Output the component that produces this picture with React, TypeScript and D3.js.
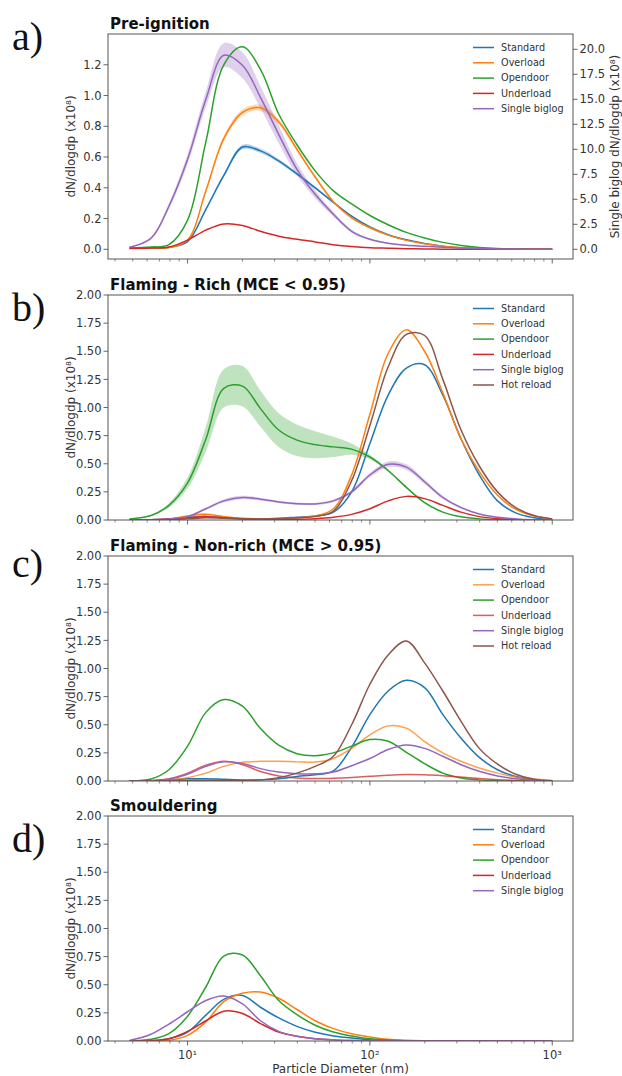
import React from "react";
import * as d3 from "d3";

// ---------- data ----------
const diameters = [4.8, 6.3, 7.9, 10, 12.6, 15.8, 20, 25.1, 31.6, 39.8, 50.1, 63.1, 79.4, 100, 125.9, 158.5, 199.5, 251.2, 316.2, 398.1, 501.2, 631, 794.3, 1000];

const seriesNames = ["Standard", "Overload", "Opendoor", "Underload", "Single biglog", "Hot reload"];
const seriesColors = ["#1f77b4", "#ff7f0e", "#2ca02c", "#d62728", "#9467bd", "#8c564b"];

// a) Pre-ignition
const aStandard = [0.01, 0.01, 0.012, 0.05, 0.26, 0.48, 0.665, 0.64, 0.575, 0.49, 0.40, 0.305, 0.215, 0.145, 0.095, 0.062, 0.038, 0.02, 0.01, 0.005, 0.003, 0.001, 0.0, 0.0];
const aStandardErr = [0, 0, 0, 0.003, 0.01, 0.012, 0.015, 0.014, 0.012, 0.01, 0.008, 0.006, 0.005, 0.004, 0.003, 0.002, 0.001, 0, 0, 0, 0, 0, 0, 0];
const aOverload = [0.01, 0.01, 0.012, 0.06, 0.38, 0.72, 0.89, 0.92, 0.83, 0.65, 0.47, 0.31, 0.205, 0.14, 0.092, 0.058, 0.036, 0.02, 0.01, 0.005, 0.003, 0.001, 0.0, 0.0];
const aOverloadErr = [0, 0, 0, 0.004, 0.012, 0.018, 0.02, 0.02, 0.018, 0.014, 0.01, 0.008, 0.006, 0.004, 0.003, 0.002, 0.001, 0, 0, 0, 0, 0, 0, 0];
const aOpendoor = [0.01, 0.015, 0.03, 0.19, 0.70, 1.20, 1.317, 1.17, 0.88, 0.68, 0.51, 0.38, 0.295, 0.22, 0.16, 0.11, 0.074, 0.045, 0.025, 0.012, 0.005, 0.002, 0.001, 0.0];
const aUnderload = [0.005, 0.008, 0.015, 0.06, 0.125, 0.165, 0.155, 0.117, 0.085, 0.065, 0.048, 0.03, 0.018, 0.01, 0.007, 0.004, 0.002, 0.001, 0, 0, 0, 0, 0, 0];
const aSingle = [0.2, 1.1, 4.3, 9.0, 15.0, 19.4, 18.4, 15.2, 11.5, 8.0, 5.5, 3.5, 1.8, 1.0, 0.6, 0.4, 0.3, 0.2, 0.12, 0.07, 0.04, 0.02, 0.01, 0.0];
const aSingleErr = [0.05, 0.15, 0.3, 0.5, 0.8, 1.2, 1.3, 1.1, 0.9, 0.6, 0.4, 0.25, 0.15, 0.1, 0.06, 0.04, 0.02, 0.01, 0, 0, 0, 0, 0, 0];

// b) Flaming - Rich
const bStandard = [0.0, 0.002, 0.008, 0.02, 0.03, 0.02, 0.012, 0.01, 0.015, 0.025, 0.035, 0.07, 0.25, 0.68, 1.11, 1.35, 1.38, 1.11, 0.72, 0.40, 0.17, 0.063, 0.02, 0.003];
const bOverload = [0.0, 0.002, 0.008, 0.035, 0.05, 0.03, 0.015, 0.01, 0.012, 0.02, 0.035, 0.10, 0.40, 0.94, 1.48, 1.69, 1.50, 1.13, 0.72, 0.43, 0.22, 0.095, 0.035, 0.008];
const bOverloadErr = [0, 0, 0.002, 0.008, 0.012, 0.008, 0.003, 0, 0, 0, 0, 0, 0, 0, 0, 0, 0, 0, 0, 0, 0, 0, 0, 0];
const bOpendoor = [0.01, 0.04, 0.13, 0.33, 0.72, 1.17, 1.19, 0.99, 0.80, 0.71, 0.67, 0.65, 0.63, 0.56, 0.44, 0.29, 0.155, 0.07, 0.028, 0.01, 0.003, 0.001, 0.0, 0.0];
const bOpendoorErr = [0, 0.005, 0.02, 0.05, 0.11, 0.17, 0.18, 0.16, 0.15, 0.14, 0.12, 0.09, 0.05, 0.02, 0.01, 0.006, 0.003, 0.001, 0, 0, 0, 0, 0, 0];
const bUnderload = [0.0, 0.002, 0.008, 0.02, 0.03, 0.02, 0.01, 0.005, 0.004, 0.006, 0.012, 0.025, 0.05, 0.10, 0.17, 0.21, 0.19, 0.13, 0.07, 0.03, 0.012, 0.004, 0.001, 0.0];
const bSingle = [0.0, 0.003, 0.01, 0.03, 0.10, 0.17, 0.20, 0.185, 0.16, 0.145, 0.143, 0.17, 0.25, 0.40, 0.495, 0.47, 0.34, 0.20, 0.11, 0.054, 0.024, 0.01, 0.003, 0.0];
const bSingleErr = [0, 0, 0.002, 0.005, 0.01, 0.015, 0.015, 0.012, 0.01, 0.01, 0.01, 0.012, 0.015, 0.02, 0.025, 0.025, 0.02, 0.015, 0.01, 0.005, 0.002, 0, 0, 0];
const bHot = [0.0, 0.001, 0.003, 0.01, 0.02, 0.015, 0.01, 0.01, 0.012, 0.02, 0.03, 0.08, 0.35, 0.84, 1.36, 1.65, 1.64, 1.25, 0.80, 0.48, 0.25, 0.11, 0.04, 0.01];

// c) Flaming - Non-rich
const cStandard = [0.0, 0.002, 0.01, 0.02, 0.02, 0.015, 0.01, 0.01, 0.02, 0.04, 0.056, 0.09, 0.30, 0.59, 0.80, 0.895, 0.83, 0.59, 0.38, 0.21, 0.10, 0.04, 0.012, 0.002];
const cOverload = [0.0, 0.002, 0.01, 0.03, 0.07, 0.13, 0.166, 0.175, 0.175, 0.17, 0.168, 0.20, 0.29, 0.41, 0.49, 0.47, 0.35, 0.25, 0.175, 0.116, 0.07, 0.036, 0.018, 0.004];
const cOpendoor = [0.002, 0.018, 0.10, 0.31, 0.61, 0.724, 0.665, 0.466, 0.318, 0.243, 0.225, 0.25, 0.31, 0.368, 0.353, 0.255, 0.154, 0.07, 0.027, 0.01, 0.003, 0.0, 0.0, 0.0];
const cUnderload = [0.0, 0.003, 0.02, 0.07, 0.14, 0.175, 0.145, 0.085, 0.045, 0.027, 0.022, 0.025, 0.032, 0.042, 0.052, 0.057, 0.055, 0.047, 0.035, 0.022, 0.012, 0.005, 0.001, 0.0];
const cSingle = [0.0, 0.003, 0.015, 0.06, 0.13, 0.17, 0.155, 0.11, 0.08, 0.065, 0.064, 0.08, 0.136, 0.20, 0.28, 0.32, 0.29, 0.22, 0.145, 0.086, 0.045, 0.02, 0.006, 0.0];
const cHot = [0.0, 0.0, 0.002, 0.005, 0.007, 0.005, 0.005, 0.01, 0.03, 0.07, 0.13, 0.22, 0.50, 0.86, 1.12, 1.245, 1.05, 0.80, 0.53, 0.29, 0.15, 0.06, 0.015, 0.002];

// d) Smouldering
const dStandard = [0.0, 0.003, 0.02, 0.08, 0.23, 0.37, 0.405, 0.30, 0.205, 0.13, 0.077, 0.045, 0.027, 0.012, 0.005, 0.002, 0.001, 0, 0, 0, 0, 0, 0, 0];
const dOverload = [0.0, 0.002, 0.006, 0.05, 0.17, 0.35, 0.425, 0.435, 0.38, 0.28, 0.18, 0.11, 0.065, 0.036, 0.015, 0.006, 0.002, 0, 0, 0, 0, 0, 0, 0];
const dOpendoor = [0.0, 0.015, 0.065, 0.22, 0.48, 0.755, 0.765, 0.58, 0.36, 0.235, 0.14, 0.08, 0.045, 0.02, 0.008, 0.003, 0.001, 0, 0, 0, 0, 0, 0, 0];
const dUnderload = [0.0, 0.003, 0.02, 0.085, 0.18, 0.265, 0.244, 0.155, 0.08, 0.042, 0.02, 0.01, 0.005, 0.002, 0.001, 0, 0, 0, 0, 0, 0, 0, 0, 0];
const dSingle = [0.005, 0.06, 0.15, 0.26, 0.36, 0.40, 0.33, 0.18, 0.086, 0.042, 0.02, 0.01, 0.005, 0.002, 0, 0, 0, 0, 0, 0, 0, 0, 0, 0];

// ticks
const yTicksPre = [0, 0.2, 0.4, 0.6, 0.8, 1.0, 1.2];
const yTicksPreRight = [0, 2.5, 5, 7.5, 10, 12.5, 15, 17.5, 20];
const yTicksFlaming = [0, 0.25, 0.5, 0.75, 1.0, 1.25, 1.5, 1.75, 2.0];
const xMajorTicks = [10, 100, 1000];
const xMajorLabels = ["10\u00b9", "10\u00b2", "10\u00b3"];
const xMinorTicks = [4, 5, 6, 7, 8, 9, 20, 30, 40, 50, 60, 70, 80, 90, 200, 300, 400, 500, 600, 700, 800, 900];

const panelTitles = ["Pre-ignition", "Flaming - Rich (MCE < 0.95)", "Flaming - Non-rich (MCE > 0.95)", "Smouldering"];
const panelLetters = ["a)", "b)", "c)", "d)"];

// ---------- layout ----------
const W = 622;
const H = 1076;
const LEFT = 108;
const RIGHT = 573;
const PH = 225;
const panelTops = [34, 295, 556, 816];
const letterBaselines = [50, 321, 577, 852];
const FONT = "'DejaVu Sans', sans-serif";
const SPINE = "#555";
const TXT = "#333";

type Series = { name: string; values: number[]; err?: number[]; right?: boolean; opacity?: number };
type PanelDef = {
  yDomain: [number, number];
  yTicks: number[];
  fmt: (v: number) => string;
  rightDomain?: [number, number];
  rightTicks?: number[];
  series: Series[];
};

const panels: PanelDef[] = [
  {
    yDomain: [-0.063, 1.4],
    yTicks: yTicksPre,
    fmt: d3.format(".1f"),
    rightDomain: [-0.97, 21.53],
    rightTicks: yTicksPreRight,
    series: [
      { name: seriesNames[0], values: aStandard, err: aStandardErr },
      { name: seriesNames[1], values: aOverload, err: aOverloadErr },
      { name: seriesNames[2], values: aOpendoor },
      { name: seriesNames[3], values: aUnderload },
      { name: seriesNames[4], values: aSingle, err: aSingleErr, right: true },
    ],
  },
  {
    yDomain: [0, 2],
    yTicks: yTicksFlaming,
    fmt: d3.format(".2f"),
    series: [
      { name: seriesNames[0], values: bStandard },
      { name: seriesNames[1], values: bOverload, err: bOverloadErr },
      { name: seriesNames[2], values: bOpendoor, err: bOpendoorErr },
      { name: seriesNames[3], values: bUnderload },
      { name: seriesNames[4], values: bSingle, err: bSingleErr },
      { name: seriesNames[5], values: bHot },
    ],
  },
  {
    yDomain: [0, 2],
    yTicks: yTicksFlaming,
    fmt: d3.format(".2f"),
    series: [
      { name: seriesNames[0], values: cStandard },
      { name: seriesNames[1], values: cOverload, opacity: 0.75 },
      { name: seriesNames[2], values: cOpendoor },
      { name: seriesNames[3], values: cUnderload, opacity: 0.75 },
      { name: seriesNames[4], values: cSingle },
      { name: seriesNames[5], values: cHot },
    ],
  },
  {
    yDomain: [0, 2],
    yTicks: yTicksFlaming,
    fmt: d3.format(".2f"),
    series: [
      { name: seriesNames[0], values: dStandard },
      { name: seriesNames[1], values: dOverload },
      { name: seriesNames[2], values: dOpendoor },
      { name: seriesNames[3], values: dUnderload },
      { name: seriesNames[4], values: dSingle },
    ],
  },
];

const x = d3.scaleLog().domain([3.66, 1300]).range([LEFT, RIGHT]);
const curve = d3.curveCatmullRom.alpha(0.5);

function colorOf(name: string) {
  return seriesColors[seriesNames.indexOf(name)];
}

function Panel({ p, idx }: { p: PanelDef; idx: number }) {
  const top = panelTops[idx];
  const bottom = top + PH;
  const y = d3.scaleLinear().domain(p.yDomain).range([bottom, top]);
  const yR = p.rightDomain ? d3.scaleLinear().domain(p.rightDomain).range([bottom, top]) : null;
  const clipId = `clip-${idx}`;
  const isLast = idx === panels.length - 1;
  const midY = (top + bottom) / 2;

  return (
    <g>
      <defs>
        <clipPath id={clipId}>
          <rect x={LEFT} y={top} width={RIGHT - LEFT} height={PH} />
        </clipPath>
      </defs>
      <g clipPath={`url(#${clipId})`}>
        {p.series.map((s) => {
          if (!s.err) return null;
          const sc = s.right && yR ? yR : y;
          const area = d3
            .area<number>()
            .x((_, i) => x(diameters[i]))
            .y0((v, i) => sc(v - s.err![i]))
            .y1((v, i) => sc(v + s.err![i]))
            .curve(curve);
          return <path key={"band" + s.name} d={area(s.values) || ""} fill={colorOf(s.name)} opacity={0.3} stroke="none" />;
        })}
        {p.series.map((s) => {
          const sc = s.right && yR ? yR : y;
          const line = d3
            .line<number>()
            .x((_, i) => x(diameters[i]))
            .y((v) => sc(v))
            .curve(curve);
          return (
            <path
              key={"line" + s.name}
              d={line(s.values) || ""}
              fill="none"
              stroke={colorOf(s.name)}
              strokeWidth={1.5}
              strokeOpacity={s.opacity ?? 1}
              strokeLinejoin="round"
            />
          );
        })}
      </g>
      {/* frame */}
      <rect x={LEFT} y={top} width={RIGHT - LEFT} height={PH} fill="none" stroke={SPINE} strokeWidth={1} />
      {/* y ticks left */}
      {p.yTicks.map((t) => (
        <g key={"yt" + t}>
          <line x1={LEFT - 4.5} x2={LEFT} y1={y(t)} y2={y(t)} stroke={SPINE} strokeWidth={0.9} />
          <text x={LEFT - 6.5} y={y(t)} dy="0.36em" textAnchor="end" fontSize={11.5} fill={TXT} fontFamily={FONT}>
            {p.fmt(t)}
          </text>
        </g>
      ))}
      {/* y ticks right */}
      {yR && p.rightTicks
        ? p.rightTicks.map((t) => (
            <g key={"yr" + t}>
              <line x1={RIGHT} x2={RIGHT + 4.5} y1={yR(t)} y2={yR(t)} stroke={SPINE} strokeWidth={0.9} />
              <text x={RIGHT + 6.5} y={yR(t)} dy="0.36em" textAnchor="start" fontSize={11.5} fill={TXT} fontFamily={FONT}>
                {d3.format(".1f")(t)}
              </text>
            </g>
          ))
        : null}
      {yR ? (
        <text
          transform={`translate(619,${midY}) rotate(-90)`}
          textAnchor="middle"
          fontSize={12}
          fill={TXT}
          fontFamily={FONT}
        >
          {"Single biglog dN/dlogdp (x10\u2078)"}
        </text>
      ) : null}
      {/* x ticks */}
      {xMajorTicks.map((t, i) => (
        <g key={"xm" + t}>
          <line x1={x(t)} x2={x(t)} y1={bottom} y2={bottom + 4.5} stroke={SPINE} strokeWidth={0.9} />
          {isLast ? (
            <text x={x(t)} y={bottom + 18} textAnchor="middle" fontSize={11.5} fill={TXT} fontFamily={FONT}>
              {xMajorLabels[i]}
            </text>
          ) : null}
        </g>
      ))}
      {xMinorTicks.map((t) => (
        <line key={"xn" + t} x1={x(t)} x2={x(t)} y1={bottom} y2={bottom + 2.5} stroke={SPINE} strokeWidth={0.7} />
      ))}
      {/* y label */}
      <text transform={`translate(75,${midY}) rotate(-90)`} textAnchor="middle" fontSize={12} fill={TXT} fontFamily={FONT}>
        {"dN/dlogdp (x10\u2078)"}
      </text>
      {/* title */}
      <text x={110} y={top - 5.5} fontSize={15} fontWeight="bold" fill="#111" fontFamily={FONT}>
        {panelTitles[idx]}
      </text>
      {/* panel letter */}
      <text x={12} y={letterBaselines[idx]} fontSize={40} fill="#111" fontFamily="'Liberation Serif', 'Times New Roman', serif">
        {panelLetters[idx]}
      </text>
      {/* legend */}
      {p.series.map((s, i) => {
        const ly = top + 13.5 + i * 15.3;
        return (
          <g key={"lg" + s.name}>
            <line x1={473} x2={494} y1={ly} y2={ly} stroke={colorOf(s.name)} strokeWidth={1.5} strokeOpacity={s.opacity ?? 1} />
            <text x={501} y={ly} dy="0.35em" fontSize={9.7} fill={TXT} fontFamily={FONT}>
              {s.name}
            </text>
          </g>
        );
      })}
      {isLast ? (
        <text x={(LEFT + RIGHT) / 2} y={1073} textAnchor="middle" fontSize={12} fill={TXT} fontFamily={FONT}>
          Particle Diameter (nm)
        </text>
      ) : null}
    </g>
  );
}

export default function App() {
  return (
    <svg
      width={W}
      height={H}
      viewBox={`0 0 ${W} ${H}`}
      style={{ position: "absolute", left: 0, top: 0, background: "#fff" }}
    >
      <rect x={0} y={0} width={W} height={H} fill="#fff" />
      {panels.map((p, i) => (
        <Panel key={i} p={p} idx={i} />
      ))}
    </svg>
  );
}
